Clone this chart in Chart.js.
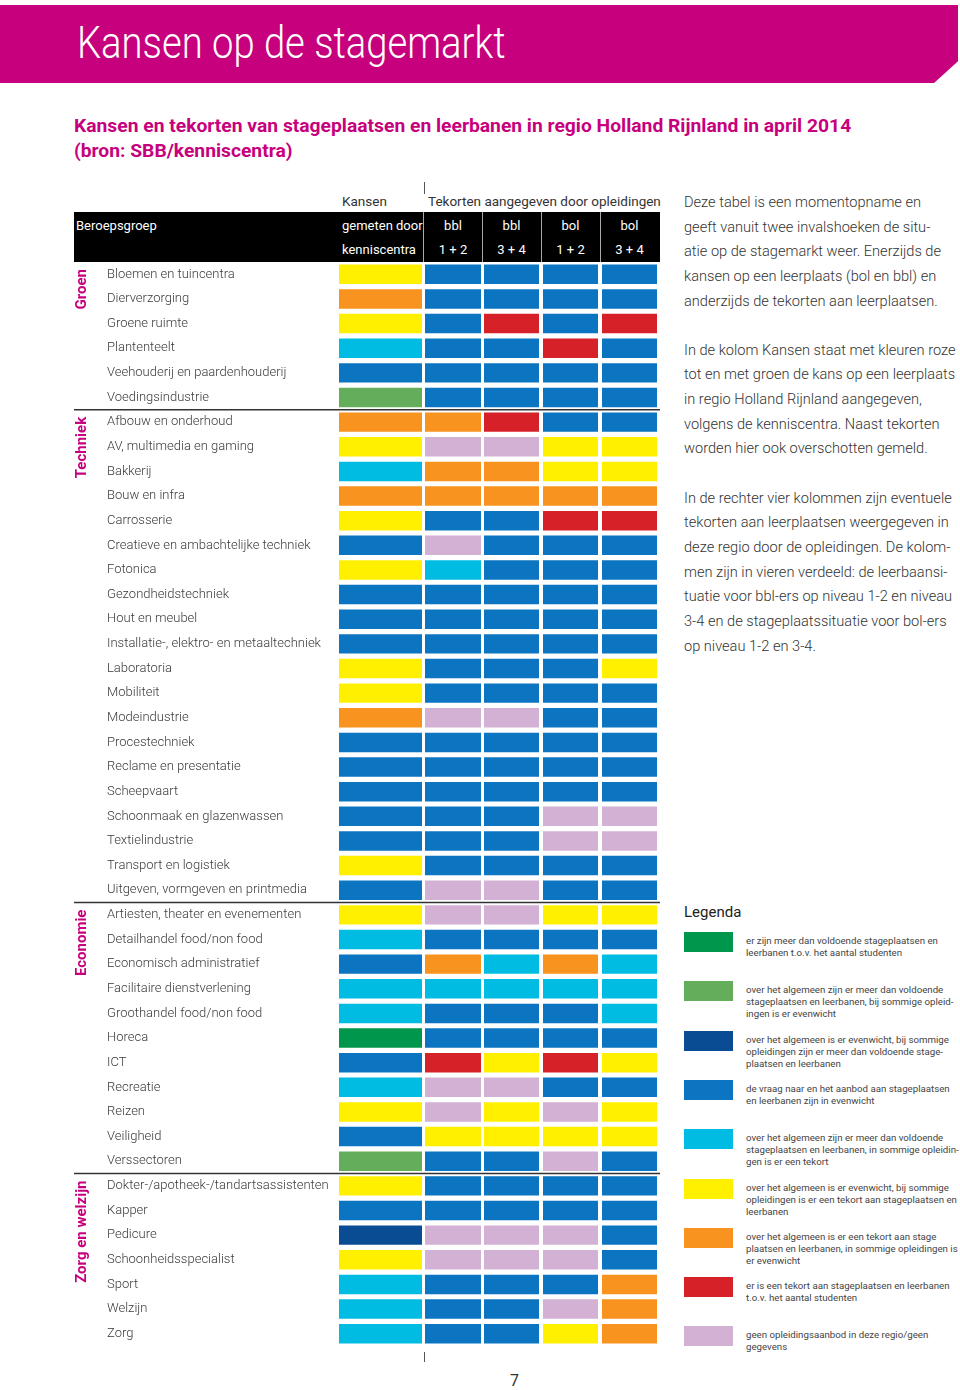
<!DOCTYPE html>
<html lang="nl">
<head>
<meta charset="utf-8">
<script src="https://cdn.jsdelivr.net/npm/chart.js@4.4.1/dist/chart.umd.min.js"></script>
<style>
body{margin:0;width:960px;height:1390px;position:relative;background:#fff;font-family:Roboto,sans-serif;color:#333;overflow:hidden}
.abs{position:absolute;white-space:nowrap}
#band{left:0;top:5px;width:958px;height:78px;background:#c7007d;clip-path:polygon(0 0,100% 0,100% 72%,97.5% 100%,0 100%)}
#titel{left:77px;top:19px;color:#fff;font-size:44px;font-weight:300;line-height:48px;transform:scaleX(0.868);transform-origin:0 0}
#sub{left:74px;top:113px;color:#c7007d;font-size:19px;font-weight:700;line-height:25px;transform:scaleX(1.014);transform-origin:0 0}
.kop{font-size:13.5px;color:#333;line-height:20px}
#zwart{left:74px;top:212px;width:586px;height:50px;background:#000}
.wit{color:#fff;font-size:13px;line-height:24px}
.sep{top:212px;width:1px;height:50px;background:#aaa}
.tick{left:424px;width:1px;background:#555}
#tekst{left:684px;top:190px;font-size:14.6px;line-height:24.64px;color:#333;font-weight:300}
#legenda{left:684px;top:903px;font-size:15px;color:#222}
.sw{left:684px;width:49px;height:20px}
.lt{left:746px;font-size:9.7px;line-height:12px;color:#444}
#pagina{left:510px;top:1371px;font-size:16px;color:#333}
</style>
</head>
<body>
<div id="band" class="abs"></div>
<div id="titel" class="abs">Kansen op de stagemarkt</div>
<div id="sub" class="abs">Kansen en tekorten van stageplaatsen en leerbanen in regio Holland Rijnland in april 2014<br>(bron: SBB/kenniscentra)</div>

<div class="abs kop" style="left:342px;top:191px">Kansen</div>
<div class="abs kop" style="left:428px;top:191px">Tekorten aangegeven door opleidingen</div>
<div class="abs tick" style="top:182px;height:12px"></div>
<div class="abs tick" style="top:1352px;height:10px"></div>

<div id="zwart" class="abs"></div>
<div class="abs wit" style="left:76px;top:214px">Beroepsgroep</div>
<div class="abs wit" style="left:342px;top:214px">gemeten door</div>
<div class="abs wit" style="left:342px;top:238px">kenniscentra</div>
<div id="kolomkoppen"></div>

<canvas id="chart" class="abs" width="662" height="1108" style="left:0;top:251px"></canvas>

<div id="tekst" class="abs">Deze tabel is een momentopname en<br>geeft vanuit twee invalshoeken de situ-<br>atie op de stagemarkt weer. Enerzijds de<br>kansen op een leerplaats (bol en bbl) en<br>anderzijds de tekorten aan leerplaatsen.<br><br>In de kolom Kansen staat met kleuren roze<br>tot en met groen de kans op een leerplaats<br>in regio Holland Rijnland aangegeven,<br>volgens de kenniscentra. Naast tekorten<br>worden hier ook overschotten gemeld.<br><br>In de rechter vier kolommen zijn eventuele<br>tekorten aan leerplaatsen weergegeven in<br>deze regio door de opleidingen. De kolom-<br>men zijn in vieren verdeeld: de leerbaansi-<br>tuatie voor bbl-ers op niveau 1-2 en niveau<br>3-4 en de stageplaatssituatie voor bol-ers<br>op niveau 1-2 en 3-4.</div>

<div id="legenda" class="abs">Legenda</div>
<div id="legendaItems"></div>
<div id="pagina" class="abs">7</div>

<script>
const beroepen = [
    'Bloemen en tuincentra', 'Dierverzorging', 'Groene ruimte', 'Plantenteelt',
    'Veehouderij en paardenhouderij', 'Voedingsindustrie',
    'Afbouw en onderhoud', 'AV, multimedia en gaming', 'Bakkerij', 'Bouw en infra',
    'Carrosserie', 'Creatieve en ambachtelijke techniek', 'Fotonica', 'Gezondheidstechniek',
    'Hout en meubel', 'Installatie-, elektro- en metaaltechniek', 'Laboratoria', 'Mobiliteit',
    'Modeindustrie', 'Procestechniek', 'Reclame en presentatie', 'Scheepvaart',
    'Schoonmaak en glazenwassen', 'Textielindustrie', 'Transport en logistiek',
    'Uitgeven, vormgeven en printmedia',
    'Artiesten, theater en evenementen', 'Detailhandel food/non food', 'Economisch administratief',
    'Facilitaire dienstverlening', 'Groothandel food/non food', 'Horeca', 'ICT', 'Recreatie',
    'Reizen', 'Veiligheid', 'Verssectoren',
    'Dokter-/apotheek-/tandartsassistenten', 'Kapper', 'Pedicure', 'Schoonheidsspecialist',
    'Sport', 'Welzijn', 'Zorg'
];

const groepen = ['Groen', 'Techniek', 'Economie', 'Zorg en welzijn'];
const groepGrootte = [6, 20, 11, 7];

const kolomKoppen = [['bbl', '1 + 2'], ['bbl', '3 + 4'], ['bol', '1 + 2'], ['bol', '3 + 4']];

// codes: DG donkergroen, LG lichtgroen, DB donkerblauw, B blauw, C lichtblauw,
// Y geel, O oranje, R rood, P roze
const kansen = ['Y','O','Y','C','B','LG', 'O','Y','C','O','Y','B','Y','B','B','B','Y','Y','O','B','B','B','B','B','Y','B',
    'Y','C','B','C','C','DG','B','C','Y','B','LG', 'Y','B','DB','Y','C','C','C'];
const bbl12 = ['B','B','B','B','B','B', 'O','P','O','O','B','P','C','B','B','B','B','B','P','B','B','B','B','B','B','P',
    'P','B','O','C','B','B','R','P','P','Y','B', 'B','B','P','P','B','B','B'];
const bbl34 = ['B','B','R','B','B','B', 'R','P','O','O','B','B','B','B','B','B','B','B','P','B','B','B','B','B','B','P',
    'P','B','C','C','B','B','Y','P','Y','Y','B', 'B','B','P','P','B','B','B'];
const bol12 = ['B','B','B','R','B','B', 'B','Y','Y','O','R','B','B','B','B','B','B','B','B','B','B','B','P','P','B','B',
    'Y','B','O','C','B','B','R','B','P','Y','P', 'B','B','P','P','B','P','Y'];
const bol34 = ['B','B','R','B','B','B', 'B','Y','Y','O','R','B','B','B','B','B','Y','B','B','B','B','B','P','P','B','B',
    'Y','B','C','C','C','B','Y','B','Y','Y','B', 'B','B','B','B','O','O','O'];

const legendaCodes = ['DG', 'LG', 'DB', 'B', 'C', 'Y', 'O', 'R', 'P'];
const legendaTeksten = [
    'er zijn meer dan voldoende stageplaatsen en<br>leerbanen t.o.v. het aantal studenten',
    'over het algemeen zijn er meer dan voldoende<br>stageplaatsen en leerbanen, bij sommige opleid-<br>ingen is er evenwicht',
    'over het algemeen is er evenwicht, bij sommige<br>opleidingen zijn er meer dan voldoende stage-<br>plaatsen en leerbanen',
    'de vraag naar en het aanbod aan stageplaatsen<br>en leerbanen zijn in evenwicht',
    'over het algemeen zijn er meer dan voldoende<br>stageplaatsen en leerbanen, in sommige opleidin-<br>gen is er een tekort',
    'over het algemeen is er evenwicht, bij sommige<br>opleidingen is er een tekort aan stageplaatsen en<br>leerbanen',
    'over het algemeen is er een tekort aan stage<br>plaatsen en leerbanen, in sommige opleidingen is<br>er evenwicht',
    'er is een tekort aan stageplaatsen en leerbanen<br>t.o.v. het aantal studenten',
    'geen opleidingsaanbod in deze regio/geen<br>gegevens'
];

const kleuren = {
    DG: '#00964b', LG: '#64ae5b', DB: '#0a4c94', B: '#0b75c1', C: '#00bce3',
    Y: '#fff000', O: '#f7931e', R: '#d62128', P: '#d3b1d5'
};

// horizontal extent of each column on the x scale (0..322 = x 338..660 px)
const kolomBreedte = [[1, 84], [87, 143], [146, 201], [205, 260], [264, 319]];
const kolommen = [kansen, bbl12, bbl34, bol12, bol34];
const kolomNamen = ['Kansen', 'bbl 1+2', 'bbl 3+4', 'bol 1+2', 'bol 3+4'];

// header cells and separators
let kop = '';
kolomBreedte.slice(1).forEach((k, i) => {
    const links = 338 + k[0], breed = k[1] - k[0];
    kop += `<div class="abs wit" style="left:${links}px;width:${breed}px;text-align:center;top:214px">${kolomKoppen[i][0]}</div>`;
    kop += `<div class="abs wit" style="left:${links}px;width:${breed}px;text-align:center;top:238px">${kolomKoppen[i][1]}</div>`;
    kop += `<div class="abs sep" style="left:${links - 2}px"></div>`;
});
document.getElementById('kolomkoppen').innerHTML = kop;

let leg = '';
legendaCodes.forEach((c, i) => {
    const top = 932 + i * 49.3;
    leg += `<div class="abs sw" style="top:${top}px;background:${kleuren[c]}"></div>`;
    leg += `<div class="abs lt" style="top:${top + 3}px">${legendaTeksten[i]}</div>`;
});
document.getElementById('legendaItems').innerHTML = leg;

const groepPlugin = {
    id: 'groepen',
    afterDraw(chart) {
        const {ctx, scales: {y}} = chart;
        const band = y.getPixelForValue(1) - y.getPixelForValue(0);
        let start = 0;
        ctx.save();
        groepen.forEach((naam, i) => {
            const top = y.getPixelForValue(start) - band / 2;
            if (i > 0) {
                ctx.strokeStyle = '#333';
                ctx.lineWidth = 1.5;
                ctx.beginPath();
                ctx.moveTo(74, top);
                ctx.lineTo(660, top);
                ctx.stroke();
            }
            ctx.save();
            ctx.translate(82, top + 7);
            ctx.rotate(-Math.PI / 2);
            ctx.fillStyle = '#c7007d';
            ctx.font = 'bold 15px Roboto, sans-serif';
            ctx.textAlign = 'right';
            ctx.textBaseline = 'middle';
            ctx.fillText(naam, 0, 0);
            ctx.restore();
            start += groepGrootte[i];
        });
        ctx.restore();
    }
};

const ctx = document.getElementById('chart').getContext('2d');
const chart = new Chart(ctx, {
    type: 'bar',
    data: {
        labels: beroepen,
        datasets: kolommen.map((kolom, i) => ({
            label: kolomNamen[i],
            data: kolom.map(() => kolomBreedte[i]),
            backgroundColor: kolom.map(c => kleuren[c]),
            grouped: false,
            barPercentage: 0.79,
            categoryPercentage: 1,
            borderWidth: 0
        }))
    },
    options: {
        indexAxis: 'y',
        responsive: false,
        animation: false,
        layout: {
            padding: {left: 107, right: 2, top: 11, bottom: 13}
        },
        plugins: {
            legend: {display: false},
            tooltip: {enabled: false}
        },
        scales: {
            x: {
                type: 'linear',
                min: 0,
                max: 322,
                display: false
            },
            y: {
                grid: {display: false},
                border: {display: false},
                afterFit: function(scale) {
                    scale.width = 231;
                },
                ticks: {
                    autoSkip: false,
                    crossAlign: 'far',
                    padding: 0,
                    color: '#3a3a3a',
                    font: {family: 'Roboto', size: 13, weight: '300'}
                }
            }
        }
    },
    plugins: [groepPlugin]
});
</script>
</body>
</html>
